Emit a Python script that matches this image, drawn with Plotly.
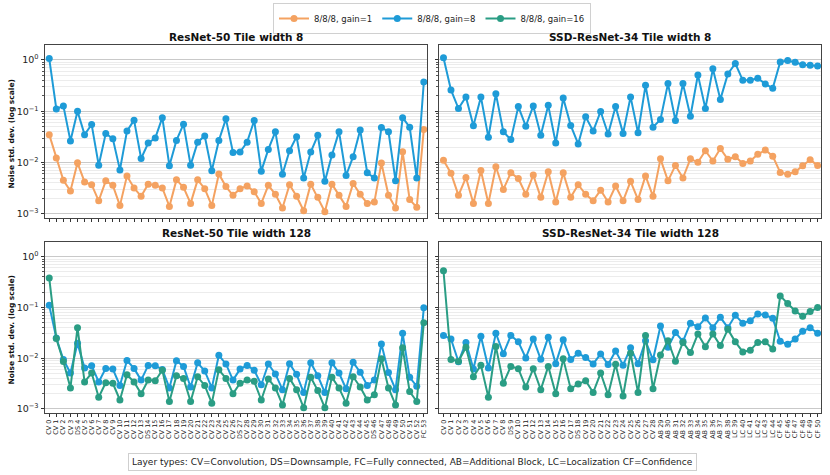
import plotly.graph_objects as go

# ---------------- data ----------------
rn50_types = (["CV"] * 4 + ["DS"] + ["CV"] * 9 + ["DS"] + ["CV"] * 12 + ["DS"]
              + ["CV"] * 18 + ["DS"] + ["CV"] * 6 + ["FC"])
ssd_types = (["CV"] * 9 + ["DS"] + ["CV"] * 8 + ["DS"] + ["CV"] * 10
             + ["AB"] * 10 + ["LC"] * 6 + ["CF"] * 6)
rn50_labels = [f"{t} {i}" for i, t in enumerate(rn50_types)]
ssd_labels = [f"{t} {i}" for i, t in enumerate(ssd_types)]

rn50_t8_g1 = [0.035, 0.0123, 0.0045, 0.0028, 0.0099, 0.0042, 0.0037, 0.0018, 0.0044, 0.0036,
              0.00145, 0.0055, 0.0032, 0.0022, 0.0038, 0.0036, 0.0032, 0.0014, 0.0046, 0.0033,
              0.0016, 0.0046, 0.0031, 0.00145, 0.006, 0.0034, 0.0023, 0.0031, 0.0035, 0.0027,
              0.0016, 0.0036, 0.0024, 0.0013, 0.0037, 0.0022, 0.00115, 0.0038, 0.0021, 0.0011,
              0.0038, 0.0023, 0.0014, 0.0039, 0.0024, 0.0016, 0.0017, 0.0098, 0.0023, 0.0013,
              0.0162, 0.0019, 0.00135, 0.044]
rn50_t8_g8 = [1.06, 0.111, 0.127, 0.0264, 0.1, 0.035, 0.055, 0.0089, 0.037, 0.029,
              0.0072, 0.041, 0.067, 0.012, 0.024, 0.030, 0.075, 0.0087, 0.027, 0.056,
              0.0089, 0.025, 0.033, 0.0069, 0.027, 0.071, 0.0157, 0.016, 0.025, 0.066,
              0.0068, 0.018, 0.040, 0.0059, 0.017, 0.032, 0.005, 0.016, 0.034, 0.0043,
              0.014, 0.040, 0.0056, 0.013, 0.043, 0.0063, 0.005, 0.048, 0.040, 0.0044,
              0.075, 0.049, 0.005, 0.37]
ssd_t8_g1 = [0.0111, 0.0062, 0.0023, 0.0051, 0.0016, 0.0070, 0.0016, 0.0083, 0.003, 0.0063,
             0.0049, 0.0024, 0.0057, 0.0021, 0.0066, 0.0017, 0.0063, 0.0021, 0.0037, 0.0024,
             0.0018, 0.0029, 0.0017, 0.0035, 0.0018, 0.0043, 0.0019, 0.0055, 0.0022, 0.0118,
             0.0044, 0.0088, 0.005, 0.0118, 0.0101, 0.017, 0.0107, 0.0187, 0.0116, 0.013,
             0.0096, 0.0107, 0.0145, 0.0175, 0.0133, 0.0064, 0.0059, 0.0066, 0.0087, 0.0113,
             0.0088]
ssd_t8_g8 = [1.1, 0.26, 0.113, 0.19, 0.052, 0.19, 0.031, 0.22, 0.040, 0.028,
             0.123, 0.051, 0.127, 0.034, 0.13, 0.024, 0.18, 0.053, 0.023, 0.078,
             0.041, 0.099, 0.036, 0.123, 0.037, 0.19, 0.038, 0.32, 0.049, 0.069,
             0.345, 0.066, 0.345, 0.08, 0.51, 0.113, 0.67, 0.17, 0.53, 0.85,
             0.40, 0.40, 0.44, 0.34, 0.28, 0.91, 0.97, 0.9, 0.8, 0.79,
             0.76]
rn50_t128_g8 = [0.11, 0.025, 0.0094, 0.0051, 0.0196, 0.0064, 0.0071, 0.0034, 0.0063, 0.0061,
                0.0029, 0.0090, 0.0063, 0.0037, 0.0072, 0.0071, 0.006, 0.0026, 0.0089, 0.0069,
                0.0027, 0.0081, 0.0056, 0.0026, 0.0114, 0.0077, 0.0037, 0.0061, 0.0072, 0.0058,
                0.0030, 0.0077, 0.0049, 0.0024, 0.0078, 0.0048, 0.0021, 0.0081, 0.0045, 0.0021,
                0.0081, 0.0051, 0.0025, 0.0083, 0.0053, 0.0029, 0.0037, 0.0191, 0.0052, 0.0024,
                0.031, 0.0042, 0.0028, 0.099]
rn50_t128_g16 = [0.38, 0.0245, 0.0086, 0.0026, 0.040, 0.0034, 0.0051, 0.0017, 0.0033, 0.0032,
                 0.0015, 0.0047, 0.0034, 0.002, 0.0037, 0.0036, 0.0058, 0.0014, 0.0045, 0.0040,
                 0.0014, 0.0043, 0.0029, 0.0013, 0.0059, 0.0040, 0.002, 0.0032, 0.0037, 0.0035,
                 0.0015, 0.0039, 0.0026, 0.0012, 0.0040, 0.0024, 0.00105, 0.0042, 0.0023, 0.00105,
                 0.0042, 0.0026, 0.0013, 0.0043, 0.0027, 0.0015, 0.0019, 0.0098, 0.0026, 0.0012,
                 0.016, 0.0022, 0.0014, 0.05]
ssd_t128_g8 = [0.028, 0.024, 0.0085, 0.0205, 0.0061, 0.027, 0.0064, 0.031, 0.0123, 0.028,
               0.021, 0.0101, 0.024, 0.0095, 0.026, 0.0078, 0.023, 0.0094, 0.0125, 0.0103,
               0.0077, 0.0121, 0.0075, 0.0139, 0.0073, 0.016, 0.0078, 0.022, 0.0093, 0.043,
               0.0164, 0.032, 0.0215, 0.049, 0.0415, 0.062, 0.04, 0.064, 0.04, 0.07,
               0.049, 0.055, 0.074, 0.071, 0.061, 0.0215, 0.0188, 0.024, 0.034, 0.04,
               0.031]
ssd_t128_g16 = [0.53, 0.0094, 0.0087, 0.0164, 0.0043, 0.0073, 0.0017, 0.0171, 0.0032, 0.0069,
                0.0062, 0.0027, 0.0062, 0.0024, 0.0069, 0.002, 0.0097, 0.0025, 0.0031, 0.0036,
                0.0021, 0.0051, 0.0019, 0.0076, 0.0018, 0.0125, 0.0021, 0.028, 0.0025, 0.0115,
                0.022, 0.0087, 0.0205, 0.0129, 0.03, 0.0168, 0.030, 0.0177, 0.037, 0.021,
                0.0133, 0.0144, 0.0205, 0.021, 0.0152, 0.169, 0.12, 0.085, 0.067, 0.083,
                0.10]

series_names = ["8/8/8, gain=1", "8/8/8, gain=8", "8/8/8, gain=16"]
subplot_titles = ["ResNet-50 Tile width 8", "SSD-ResNet-34 Tile width 8",
                  "ResNet-50 Tile width 128", "SSD-ResNet-34 Tile width 128"]
y_title = "Noise std. dev. (log scale)"
note = ("Layer types: CV=Convolution, DS=Downsample, FC=Fully connected, "
        "AB=Additional Block, LC=Localization CF=Confidence")

# ---------------- styling ----------------
FONT = "DejaVu Sans"
colors = {"8/8/8, gain=1": "#F4A261", "8/8/8, gain=8": "#1E9BD7", "8/8/8, gain=16": "#2A9D84"}

fig = go.Figure()
shown = set()


def add(y, name, ax):
    show = name not in shown
    shown.add(name)
    fig.add_trace(go.Scatter(
        x=list(range(len(y))), y=y, mode="lines+markers", name=name,
        line=dict(color=colors[name], width=2),
        marker=dict(color=colors[name], size=7),
        xaxis="x" + ax, yaxis="y" + ax, showlegend=show,
        legendrank=series_names.index(name) + 1))


add(rn50_t8_g1, series_names[0], "")
add(rn50_t8_g8, series_names[1], "")
add(ssd_t8_g1, series_names[0], "2")
add(ssd_t8_g8, series_names[1], "2")
add(rn50_t128_g8, series_names[1], "3")
add(rn50_t128_g16, series_names[2], "3")
add(ssd_t128_g8, series_names[1], "4")
add(ssd_t128_g16, series_names[2], "4")

W, H = 830, 475
L, R, T, B = 45, 9, 45, 62
PW, PH = W - L - R, H - T - B


def px_x(px):
    return (px - L) / PW


def px_y(py):
    return (H - B - py) / PH


xdom_l = [0, px_x(427)]
xdom_r = [px_x(439), 1]
ydom_t = [px_y(218), 1]
ydom_b = [0, px_y(242)]

major = [1e-3, 1e-2, 1e-1, 1]
major_txt = ["10<sup>\u22123</sup>", "10<sup>\u22122</sup>", "10<sup>\u22121</sup>", "10<sup>0</sup>"]
minor_vals = [m * d for d in [1e-3, 1e-2, 1e-1] for m in range(2, 10)]

yrange = [-3.08, 0.29]


def xaxis(dom, n, labels, show_labels, anchor):
    return dict(domain=dom, range=[-0.6, n - 1 + 0.45], anchor=anchor, automargin=False,
                tickmode="array", tickvals=list(range(n)), ticktext=labels,
                showticklabels=show_labels, tickangle=-90, ticks="outside", ticklen=3,
                tickwidth=0.8, tickcolor="#333",
                tickfont=dict(family=FONT, size=6.5, color="#222"),
                showgrid=False, zeroline=False, showline=True, mirror=True,
                linecolor="#444", linewidth=1)


def yaxis(dom, show_labels, anchor):
    return dict(domain=dom, type="log", range=yrange, anchor=anchor, automargin=False,
                tickmode="array", tickvals=major, ticktext=major_txt,
                showticklabels=show_labels, ticks="outside", ticklen=3.5, tickwidth=0.8,
                tickcolor="#333", tickfont=dict(family=FONT, size=9.5, color="#222"),
                showgrid=True, gridcolor="#c9c9c9", gridwidth=1,
                minor=dict(tickmode="array", tickvals=minor_vals, ticks="outside", ticklen=2,
                           tickcolor="#555", showgrid=True, gridcolor="#ececec", gridwidth=0.8),
                zeroline=False, showline=True, mirror=True, linecolor="#444", linewidth=1)


layout = dict(
    width=W, height=H, margin=dict(l=L, r=R, t=T, b=B, autoexpand=False),
    paper_bgcolor="white", plot_bgcolor="white",
    font=dict(family=FONT, size=9.5, color="#222"),
    xaxis=xaxis(xdom_l, len(rn50_labels), rn50_labels, False, "y"),
    xaxis2=xaxis(xdom_r, len(ssd_labels), ssd_labels, False, "y2"),
    xaxis3=xaxis(xdom_l, len(rn50_labels), rn50_labels, True, "y3"),
    xaxis4=xaxis(xdom_r, len(ssd_labels), ssd_labels, True, "y4"),
    yaxis=yaxis(ydom_t, True, "x"),
    yaxis2=yaxis(ydom_t, False, "x2"),
    yaxis3=yaxis(ydom_b, True, "x3"),
    yaxis4=yaxis(ydom_b, False, "x4"),
    legend=dict(orientation="h", x=px_x(432), xanchor="center", y=px_y(3), yanchor="top",
                bordercolor="#d0d0d0", borderwidth=1, bgcolor="white",
                font=dict(family=FONT, size=8.5, color="#222"), itemwidth=30,
                tracegroupgap=0, traceorder="normal"),
    showlegend=True,
)
fig.update_layout(**layout)

annos = []
title_pos = [((xdom_l[0] + xdom_l[1]) / 2, px_y(37)), ((xdom_r[0] + xdom_r[1]) / 2, px_y(37)),
             ((xdom_l[0] + xdom_l[1]) / 2, px_y(233)), ((xdom_r[0] + xdom_r[1]) / 2, px_y(233))]
for t, (x, y) in zip(subplot_titles, title_pos):
    annos.append(dict(text="<b>" + t + "</b>", x=x, y=y, xref="paper", yref="paper",
                      xanchor="center", yanchor="middle", showarrow=False,
                      font=dict(family=FONT, size=10.5, color="#111")))
for yc in [(45 + 218) / 2 + 3, (242 + 413) / 2 + 3]:
    annos.append(dict(text="<b>" + y_title + "</b>", x=px_x(11), y=px_y(yc), xref="paper",
                      yref="paper", xanchor="center", yanchor="middle", textangle=-90,
                      showarrow=False, font=dict(family=FONT, size=7.5, color="#111")))
annos.append(dict(text=note, x=px_x(412.5), y=px_y(462), xref="paper", yref="paper",
                  xanchor="center", yanchor="middle", showarrow=False,
                  bordercolor="#cfcfcf", borderwidth=1, borderpad=3, bgcolor="white",
                  font=dict(family=FONT, size=9, color="#222")))
fig.update_layout(annotations=annos)

fig.write_html("out.html", config={"displayModeBar": False},
               post_script="document.body.style.margin='0';")
